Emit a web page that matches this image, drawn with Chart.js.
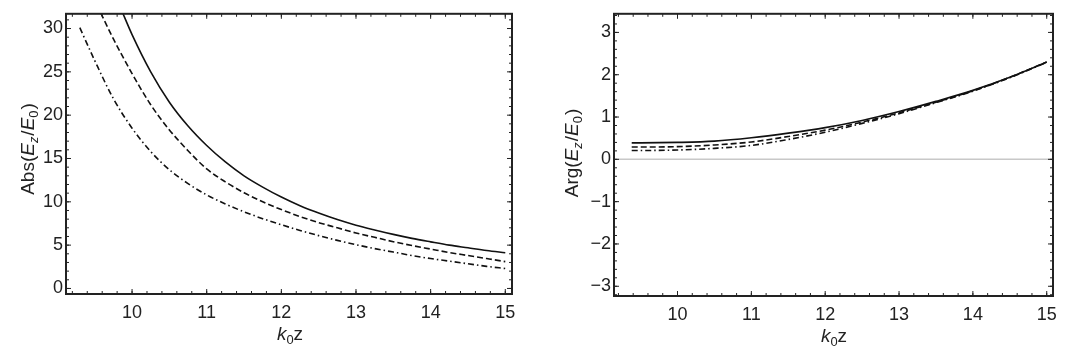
<!DOCTYPE html>
<html>
<head>
<meta charset="utf-8">
<script src="https://cdn.jsdelivr.net/npm/chart.js@4.4.1/dist/chart.umd.min.js"></script>
<style>
  html, body { margin: 0; padding: 0; background: #fff; }
  .wrap { position: absolute; top: 0; width: 544px; height: 359px; }
  #left { left: 0; }
  #right { left: 544px; }
</style>
</head>
<body>
<div class="wrap" id="left"><canvas id="absChart"></canvas></div>
<div class="wrap" id="right"><canvas id="argChart"></canvas></div>
<script>
// --- data ---
// Abs(Ez/E0)
const absSolidK = [9.85, 10.0, 10.25, 10.5, 10.75, 11.0, 11.25, 11.5, 11.75, 12.0, 12.25, 12.5, 12.75, 13.0, 13.25, 13.5, 13.75, 14.0, 14.25, 14.5, 14.75, 15.0];
const absSolidV = [32.3, 29.3, 25.0, 21.5, 18.75, 16.5, 14.6, 13.0, 11.7, 10.55, 9.55, 8.7, 7.95, 7.3, 6.75, 6.24, 5.78, 5.38, 5.0, 4.69, 4.38, 4.12];
const absDashK = [9.58, 9.75, 10.0, 10.25, 10.5, 10.75, 11.0, 11.25, 11.5, 11.75, 12.0, 12.25, 12.5, 12.75, 13.0, 13.25, 13.5, 13.75, 14.0, 14.25, 14.5, 14.75, 15.0];
const absDashV = [31.8, 28.8, 24.8, 21.2, 18.3, 15.9, 13.8, 12.3, 11.05, 10.0, 9.1, 8.3, 7.6, 7.0, 6.4, 5.9, 5.4, 4.95, 4.55, 4.15, 3.8, 3.45, 3.1];
const absDotK = [9.3, 9.5, 9.75, 10.0, 10.25, 10.5, 10.75, 11.0, 11.25, 11.5, 11.75, 12.0, 12.25, 12.5, 12.75, 13.0, 13.25, 13.5, 13.75, 14.0, 14.25, 14.5, 14.75, 15.0];
const absDotV = [30.1, 26.3, 21.9, 18.5, 15.8, 13.7, 12.1, 10.8, 9.75, 8.85, 8.05, 7.35, 6.7, 6.1, 5.55, 5.05, 4.6, 4.2, 3.8, 3.45, 3.15, 2.85, 2.55, 2.3];

// Arg(Ez/E0)
const argK = [9.38, 9.5, 10.0, 10.5, 11.0, 11.5, 12.0, 12.5, 13.0, 13.5, 14.0, 14.5, 15.0];
const argSolidV = [0.39, 0.39, 0.40, 0.43, 0.51, 0.62, 0.75, 0.92, 1.13, 1.37, 1.63, 1.94, 2.30];
const argDashV = [0.29, 0.29, 0.30, 0.34, 0.41, 0.54, 0.69, 0.88, 1.10, 1.35, 1.62, 1.94, 2.30];
const argDotV = [0.21, 0.21, 0.22, 0.26, 0.33, 0.47, 0.64, 0.85, 1.08, 1.34, 1.61, 1.93, 2.29];

// ticks
const kTicks = [10, 11, 12, 13, 14, 15];
const absTicks = [0, 5, 10, 15, 20, 25, 30];
const argTicks = [-3, -2, -1, 0, 1, 2, 3];

const FONT = '"Liberation Sans", Arial, sans-serif';
const INK = '#222';

function pts(xs, ys) {
  return xs.map((x, i) => ({ x: x, y: ys[i] }));
}

function lineSet(data, dash) {
  return {
    data: data,
    borderColor: '#111',
    borderWidth: 1.6,
    borderDash: dash,
    pointRadius: 0,
    fill: false,
    cubicInterpolationMode: 'monotone'
  };
}

// frame with inward ticks on all four sides, like the original
const framePlugin = {
  id: 'frame',
  afterDatasetsDraw(chart, args, opts) {
    const { ctx, chartArea: a } = chart;
    const xs = chart.scales.x, ys = chart.scales.y;
    ctx.save();
    ctx.strokeStyle = INK;
    ctx.lineWidth = 1;
    const tick = (v, major, horiz) => {
      const len = major ? 5 : 3;
      ctx.beginPath();
      if (horiz) {
        const p = xs.getPixelForValue(v);
        ctx.moveTo(p, a.bottom); ctx.lineTo(p, a.bottom - len);
        ctx.moveTo(p, a.top); ctx.lineTo(p, a.top + len);
      } else {
        const p = ys.getPixelForValue(v);
        ctx.moveTo(a.left, p); ctx.lineTo(a.left + len, p);
        ctx.moveTo(a.right, p); ctx.lineTo(a.right - len, p);
      }
      ctx.stroke();
    };
    opts.xMajor.forEach(v => tick(v, true, true));
    for (let v = opts.xMinor[0]; v <= opts.xMinor[1] + 1e-9; v += opts.xMinor[2]) {
      if (v > xs.min && v < xs.max) tick(v, false, true);
    }
    opts.yMajor.forEach(v => tick(v, true, false));
    for (let v = opts.yMinor[0]; v <= opts.yMinor[1] + 1e-9; v += opts.yMinor[2]) {
      if (v > ys.min && v < ys.max) tick(v, false, false);
    }
    ctx.lineWidth = 2;
    ctx.strokeRect(a.left, a.top, a.right - a.left, a.bottom - a.top);
    ctx.restore();
  }
};

const zeroLinePlugin = {
  id: 'zeroLine',
  beforeDatasetsDraw(chart, args, opts) {
    if (!opts.show) return;
    const { ctx, chartArea: a } = chart;
    const y = chart.scales.y.getPixelForValue(0);
    ctx.save();
    ctx.strokeStyle = '#c8c8c8';
    ctx.lineWidth = 1.5;
    ctx.beginPath();
    ctx.moveTo(a.left, y); ctx.lineTo(a.right, y);
    ctx.stroke();
    ctx.restore();
  }
};

// axis titles with italic letters and subscripts
function drawRich(ctx, parts, cx, cy, rotate) {
  const size = 19;
  const widths = parts.map(p => {
    ctx.font = (p.it ? 'italic ' : '') + (p.sub ? size * 0.68 : size) + 'px ' + FONT;
    return ctx.measureText(p.t).width + (p.gap || 0);
  });
  const total = widths.reduce((s, w) => s + w, 0);
  ctx.save();
  ctx.translate(cx, cy);
  if (rotate) ctx.rotate(-Math.PI / 2);
  ctx.fillStyle = INK;
  ctx.textBaseline = 'middle';
  let x = -total / 2;
  parts.forEach((p, i) => {
    ctx.font = (p.it ? 'italic ' : '') + (p.sub ? size * 0.68 : size) + 'px ' + FONT;
    ctx.fillText(p.t, x, p.sub ? 5 : 0);
    x += widths[i];
  });
  ctx.restore();
}

const titlesPlugin = {
  id: 'titles',
  afterDraw(chart, args, opts) {
    const ctx = chart.ctx;
    drawRich(ctx, opts.yParts, opts.yPos[0], opts.yPos[1], true);
    drawRich(ctx, [
      { t: 'k', it: true }, { t: '0', sub: true }, { t: 'z' }
    ], opts.xPos[0], opts.xPos[1], false);
  }
};

function makeChart(id, datasets, cfg) {
  return new Chart(document.getElementById(id), {
    type: 'line',
    data: { datasets: datasets },
    plugins: [zeroLinePlugin, framePlugin, titlesPlugin],
    options: {
      responsive: true,
      maintainAspectRatio: false,
      animation: false,
      layout: { padding: { top: cfg.top, right: cfg.right, left: 0, bottom: 0 } },
      scales: {
        x: {
          type: 'linear',
          min: cfg.xMin, max: cfg.xMax,
          grid: { display: false, drawTicks: false },
          border: { display: false },
          afterBuildTicks: s => { s.ticks = kTicks.map(v => ({ value: v })); },
          afterFit: s => { s.height = cfg.xHeight; },
          ticks: { padding: 8, color: INK, font: { family: FONT, size: 18 }, maxRotation: 0 }
        },
        y: {
          type: 'linear',
          min: cfg.yMin, max: cfg.yMax,
          grid: { display: false, drawTicks: false },
          border: { display: false },
          afterBuildTicks: s => { s.ticks = cfg.yTicks.map(v => ({ value: v })); },
          afterFit: s => { s.width = cfg.yWidth; },
          ticks: {
            padding: 3, color: INK, font: { family: FONT, size: 18 },
            callback: v => (v < 0 ? '\u2212' + Math.abs(v) : '' + v)
          }
        }
      },
      plugins: {
        legend: { display: false },
        tooltip: { enabled: false },
        zeroLine: { show: cfg.zero },
        frame: {
          xMajor: kTicks, xMinor: [9.2, 15, 0.2],
          yMajor: cfg.yTicks, yMinor: cfg.yMinor
        },
        titles: { yParts: cfg.yParts, yPos: cfg.yPos, xPos: cfg.xPos }
      }
    }
  });
}

makeChart('absChart', [
  lineSet(pts(absSolidK, absSolidV), []),
  lineSet(pts(absDashK, absDashV), [6, 3]),
  lineSet(pts(absDotK, absDotV), [6, 3, 1.5, 3])
], {
  top: 5, right: 32, xHeight: 65, yWidth: 66,
  xMin: 9.115, xMax: 15.09, yMin: -0.64, yMax: 31.7,
  yTicks: absTicks, yMinor: [0, 31, 1], zero: false,
  yParts: [{ t: 'Abs(' }, { t: 'E', it: true }, { t: 'z', it: true, sub: true, gap: 1 }, { t: '/' },
           { t: 'E', it: true }, { t: '0', sub: true, gap: 1 }, { t: ')' }],
  yPos: [29, 149], xPos: [290, 335]
});

makeChart('argChart', [
  lineSet(pts(argK, argSolidV), []),
  lineSet(pts(argK, argDashV), [6, 3]),
  lineSet(pts(argK, argDotV), [6, 3, 1.5, 3])
], {
  top: 11, right: 35, xHeight: 63, yWidth: 70,
  xMin: 9.14, xMax: 15.085, yMin: -3.23, yMax: 3.44,
  yTicks: argTicks, yMinor: [-3.2, 3.4, 0.2], zero: true,
  yParts: [{ t: 'Arg(' }, { t: 'E', it: true }, { t: 'z', it: true, sub: true, gap: 1 }, { t: '/' },
           { t: 'E', it: true }, { t: '0', sub: true, gap: 1 }, { t: ')' }],
  yPos: [29, 153], xPos: [290, 337]
});
</script>
</body>
</html>
